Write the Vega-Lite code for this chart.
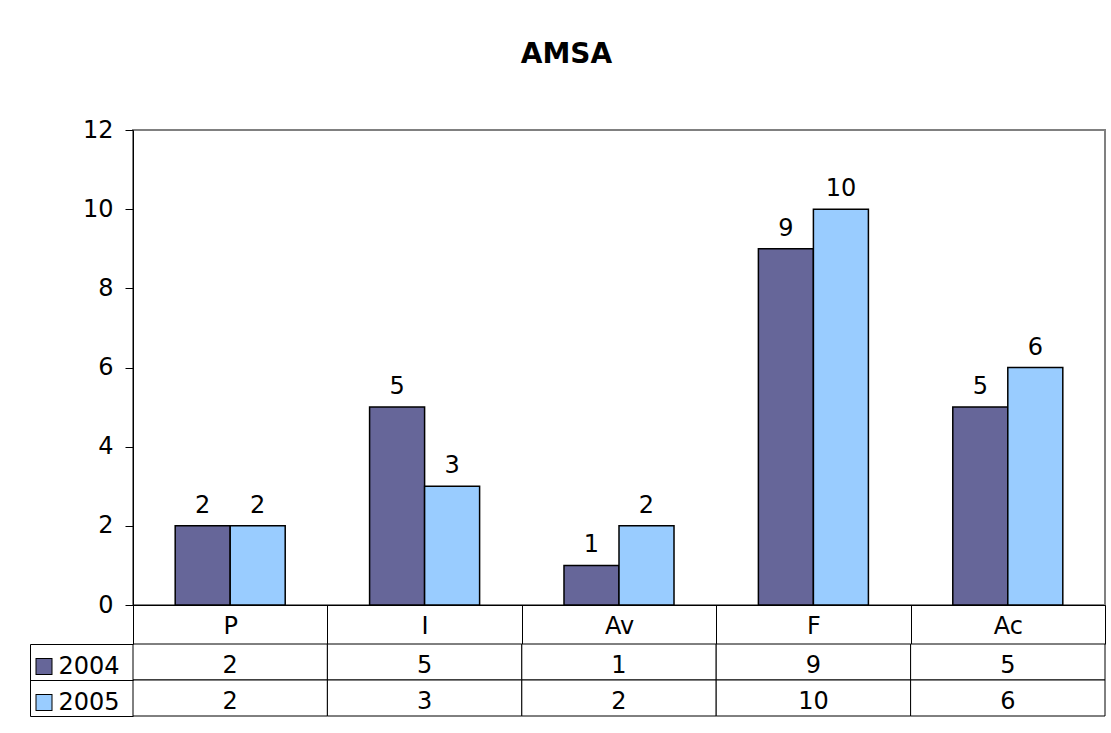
{
  "$schema": "https://vega.github.io/schema/vega-lite/v6.json",
  "background": "white",
  "padding": {"left": 26, "top": 41, "right": 0, "bottom": 0},
  "bounds": "flush",
  "title": {"text": "AMSA", "font": "DejaVu Sans", "fontSize": 28, "fontWeight": "bold", "color": "black", "anchor": "middle", "offset": 48},
  "spacing": 39,
  "datasets": {
    "amsa": [
      {"cat": "P", "year": "2004", "value": 2},
      {"cat": "P", "year": "2005", "value": 2},
      {"cat": "I", "year": "2004", "value": 5},
      {"cat": "I", "year": "2005", "value": 3},
      {"cat": "Av", "year": "2004", "value": 1},
      {"cat": "Av", "year": "2005", "value": 2},
      {"cat": "F", "year": "2004", "value": 9},
      {"cat": "F", "year": "2005", "value": 10},
      {"cat": "Ac", "year": "2004", "value": 5},
      {"cat": "Ac", "year": "2005", "value": 6}
    ]
  },
  "vconcat": [
    {
      "width": 972,
      "height": 475,
      "view": {"stroke": "#808080", "strokeWidth": 2},
      "data": {"name": "amsa"},
      "encoding": {
        "x": {"field": "cat", "type": "nominal", "sort": ["P", "I", "Av", "F", "Ac"],
          "scale": {"paddingInner": 0, "paddingOuter": 0},
          "axis": {"title": null, "orient": "bottom", "labelAngle": 0, "tickBand": "extent", "tickSize": 39, "tickColor": "black", "domainColor": "black", "labelBaseline": "middle", "labelPadding": -18, "labelFont": "DejaVu Sans", "labelFontSize": 24, "labelColor": "black"}},
        "xOffset": {"field": "year", "type": "nominal", "scale": {"paddingInner": 0, "paddingOuter": 0.767}},
        "y": {"field": "value", "type": "quantitative", "scale": {"domain": [0, 12], "nice": false},
          "axis": {"title": null, "values": [0, 2, 4, 6, 8, 10, 12], "grid": false, "tickSize": 8, "tickColor": "black", "domainColor": "black", "labelPadding": 12, "labelFont": "DejaVu Sans", "labelFontSize": 24, "labelColor": "black"}}
      },
      "layer": [
        {
          "mark": {"type": "bar", "stroke": "black", "strokeWidth": 1.5},
          "encoding": {
            "color": {"field": "year", "type": "nominal", "scale": {"domain": ["2004", "2005"], "range": ["#666699", "#99CCFF"]}, "legend": null}
          }
        },
        {
          "mark": {"type": "text", "baseline": "alphabetic", "dy": -13, "font": "DejaVu Sans", "fontSize": 24, "color": "black"},
          "encoding": {"text": {"field": "value", "type": "quantitative"}}
        }
      ]
    },
    {
      "width": 972,
      "height": 72,
      "view": {"stroke": null},
      "data": {"name": "amsa"},
      "layer": [
        {
          "encoding": {
            "x": {"field": "cat", "type": "nominal", "sort": ["P", "I", "Av", "F", "Ac"], "scale": {"paddingInner": 0, "paddingOuter": 0}, "axis": null},
            "y": {"field": "year", "type": "nominal", "scale": {"domain": ["2004", "2005"], "paddingInner": 0, "paddingOuter": 0},
              "axis": {"title": null, "orient": "left", "offset": 103, "domain": true, "domainColor": "black", "ticks": true, "tickBand": "extent", "tickSize": -103, "tickColor": "black", "labelAlign": "left", "labelBaseline": "middle", "labelPadding": 75, "labelOffset": 4, "labelFont": "DejaVu Sans", "labelFontSize": 24, "labelColor": "black"}}
          },
          "layer": [
            {"mark": {"type": "rect", "fill": "white", "stroke": "black", "strokeWidth": 1}},
            {"mark": {"type": "text", "baseline": "middle", "dy": 4, "font": "DejaVu Sans", "fontSize": 24, "color": "black"},
              "encoding": {"text": {"field": "value", "type": "quantitative"}}}
          ]
        },
        {
          "mark": {"type": "rect", "opacity": 0},
          "encoding": {
            "y": {"field": "year", "type": "nominal", "scale": {"domain": ["2004", "2005"], "paddingInner": 0, "paddingOuter": 0},
              "axis": {"title": null, "orient": "left", "offset": 81, "domain": false, "labels": false, "ticks": true, "tickSize": 17, "tickWidth": 17, "tickCap": "butt", "tickColor": "black", "tickOffset": 4}}
          }
        },
        {
          "mark": {"type": "rect", "opacity": 0},
          "encoding": {
            "y": {"field": "year", "type": "nominal", "scale": {"domain": ["2004", "2005"], "paddingInner": 0, "paddingOuter": 0},
              "axis": {"title": null, "orient": "left", "offset": 82, "domain": false, "labels": false, "ticks": true, "tickSize": 15, "tickWidth": 15, "tickCap": "butt", "tickOffset": 4,
                "tickColor": {"condition": {"test": "datum.value === '2004'", "value": "#666699"}, "value": "#99CCFF"}}}
          }
        }
      ],
      "resolve": {"scale": {"y": "independent"}, "axis": {"y": "independent"}}
    }
  ]
}
